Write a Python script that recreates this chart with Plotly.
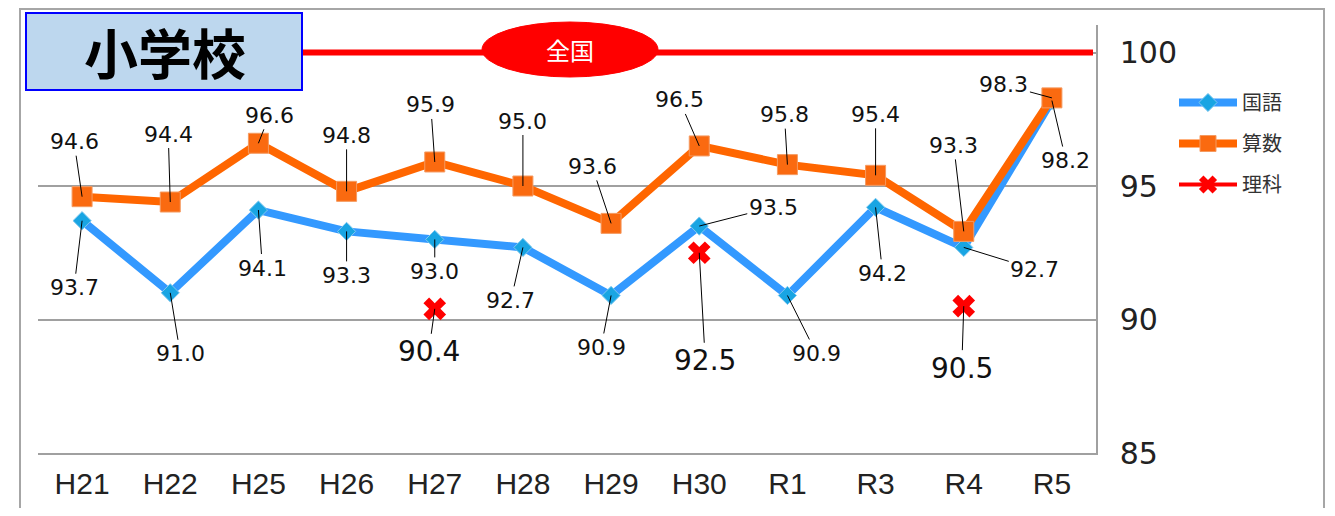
import plotly.graph_objects as go

categories = ["H21", "H22", "H25", "H26", "H27", "H28", "H29", "H30", "R1", "R3", "R4", "R5"]
kokugo = [93.7, 91.0, 94.1, 93.3, 93.0, 92.7, 90.9, 93.5, 90.9, 94.2, 92.7, 98.2]
sansu = [94.6, 94.4, 96.6, 94.8, 95.9, 95.0, 93.6, 96.5, 95.8, 95.4, 93.3, 98.3]
rika = [None, None, None, None, 90.4, None, None, 92.5, None, None, 90.5, None]
national = 100
y_ticks = [85, 90, 95, 100]

# label offsets (pixels) for leader-line labels
kokugo_off = [(-8, 67), (10, 61), (4, 58), (0, 44), (0, 32), (-12, 53), (-10, 52),
              (74, -19), (29, 58), (7, 66), (71, 22), (14, 60)]
sansu_off = [(-8, -55), (-2, -68), (11, -28), (0, -56), (-4, -57), (0, -65), (-19, -57),
             (-20, -46), (-3, -50), (0, -61), (-10, -86), (-48, -13)]
rika_off = {4: (-6, 43), 7: (6, 108), 10: (-2, 62)}

OFF = 8  # page body margin
W, H = 1335 - 2 * OFF, 516 - 2 * OFF
L, T = 38 - OFF, 25 - OFF
R = W - (1096 - OFF)
B = H - (453 - OFF)
pw, ph = W - L - R, H - T - B


def px(x):
    return (x - OFF - L) / pw


def py(y):
    return (H - B - (y - OFF)) / ph


fig = go.Figure()
fig.add_trace(go.Scatter(
    x=categories, y=kokugo, name="国語", mode="lines+markers",
    line=dict(color="#3399FF", width=8),
    marker=dict(symbol="diamond", size=14, color="#19A5E3", line=dict(color="#7FC8F0", width=1)),
    legendgroup="a"))
fig.add_trace(go.Scatter(
    x=categories, y=sansu, name="算数", mode="lines+markers",
    line=dict(color="#FF6600", width=8),
    marker=dict(symbol="square", size=20, color="#FA6A10", line=dict(color="#F59A60", width=1)),
    legendgroup="b"))
fig.add_trace(go.Scatter(
    x=categories, y=rika, name="理科", mode="lines+markers",
    line=dict(color="#FF0000", width=4),
    marker=dict(symbol="x", size=20, color="#FF0000"),
    legendgroup="c"))

annotations = []
small = dict(family="DejaVu Sans", size=22, color="#111111")
big = dict(family="DejaVu Sans", size=28, color="#111111")
for i, c in enumerate(categories):
    ax, ay = kokugo_off[i]
    annotations.append(dict(x=c, y=kokugo[i], text=f"{kokugo[i]:.1f}", showarrow=True,
                            arrowhead=0, arrowwidth=1, arrowcolor="#000000",
                            ax=ax, ay=ay, font=small, standoff=0))
    ax, ay = sansu_off[i]
    annotations.append(dict(x=c, y=sansu[i], text=f"{sansu[i]:.1f}", showarrow=True,
                            arrowhead=0, arrowwidth=1, arrowcolor="#000000",
                            ax=ax, ay=ay, font=small, standoff=0))
    if rika[i] is not None:
        ax, ay = rika_off[i]
        annotations.append(dict(x=c, y=rika[i], text=f"{rika[i]:.1f}", showarrow=True,
                                arrowhead=0, arrowwidth=1, arrowcolor="#000000",
                                ax=ax, ay=ay, font=big, standoff=0))

# title
annotations.append(dict(xref="paper", yref="paper", x=px(165), y=py(52), text="<b>小学校</b>",
                        showarrow=False, font=dict(family="Noto Sans CJK JP", size=54, color="#000000"),
                        xanchor="center", yanchor="middle"))
annotations.append(dict(xref="paper", yref="paper", x=px(570), y=py(49), text="全国",
                        showarrow=False, font=dict(family="Noto Sans CJK JP", size=24, color="#FFFFFF"),
                        xanchor="center", yanchor="middle"))

shapes = [
    # outer border
    dict(type="rect", xref="paper", yref="paper", x0=px(20), x1=px(1324), y0=py(540), y1=py(9),
         line=dict(color="#A6A6A6", width=2), fillcolor="rgba(0,0,0,0)", layer="below"),
    # national line
    dict(type="line", xref="paper", yref="y", x0=px(303), x1=px(1093), y0=national, y1=national,
         line=dict(color="#FF0000", width=6)),
    dict(type="circle", xref="paper", yref="paper", x0=px(482), x1=px(658), y0=py(77), y1=py(22),
         fillcolor="#FF0000", line=dict(color="#FF0000", width=1)),
    # title box
    dict(type="rect", xref="paper", yref="paper", x0=px(26), x1=px(302), y0=py(90), y1=py(13),
         fillcolor="#BDD7EE", line=dict(color="#0000FF", width=2)),
]

fig.update_layout(
    width=W, height=H,
    margin=dict(l=L, r=R, t=T, b=B, autoexpand=False),
    paper_bgcolor="#FFFFFF", plot_bgcolor="#FFFFFF",
    showlegend=True,
    legend=dict(x=px(1174), y=py(83), xanchor="left", yanchor="top",
                font=dict(family="Noto Sans CJK JP", size=20, color="#333333"),
                itemwidth=58, tracegroupgap=12, bgcolor="rgba(0,0,0,0)"),
    annotations=annotations,
    shapes=shapes,
    xaxis=dict(type="category", range=[-0.5, len(categories) - 0.5], showline=True,
               linecolor="#A0A0A0", linewidth=1.5, automargin=False,
               showgrid=False, ticks="", tickfont=dict(family="Liberation Sans", size=30, color="#222222"),
               ticklabelstandoff=3, zeroline=False),
    yaxis=dict(side="right", range=[85, 85 + ph / 26.7], tickvals=y_ticks, automargin=False,
               showline=True, linecolor="#A0A0A0", linewidth=1.5,
               showgrid=True, gridcolor="#A0A0A0", gridwidth=1.5, zeroline=False, ticks="",
               tickfont=dict(family="DejaVu Sans", size=30, color="#222222"),
               ticklabelstandoff=16),
)

fig.write_html("out.html")
